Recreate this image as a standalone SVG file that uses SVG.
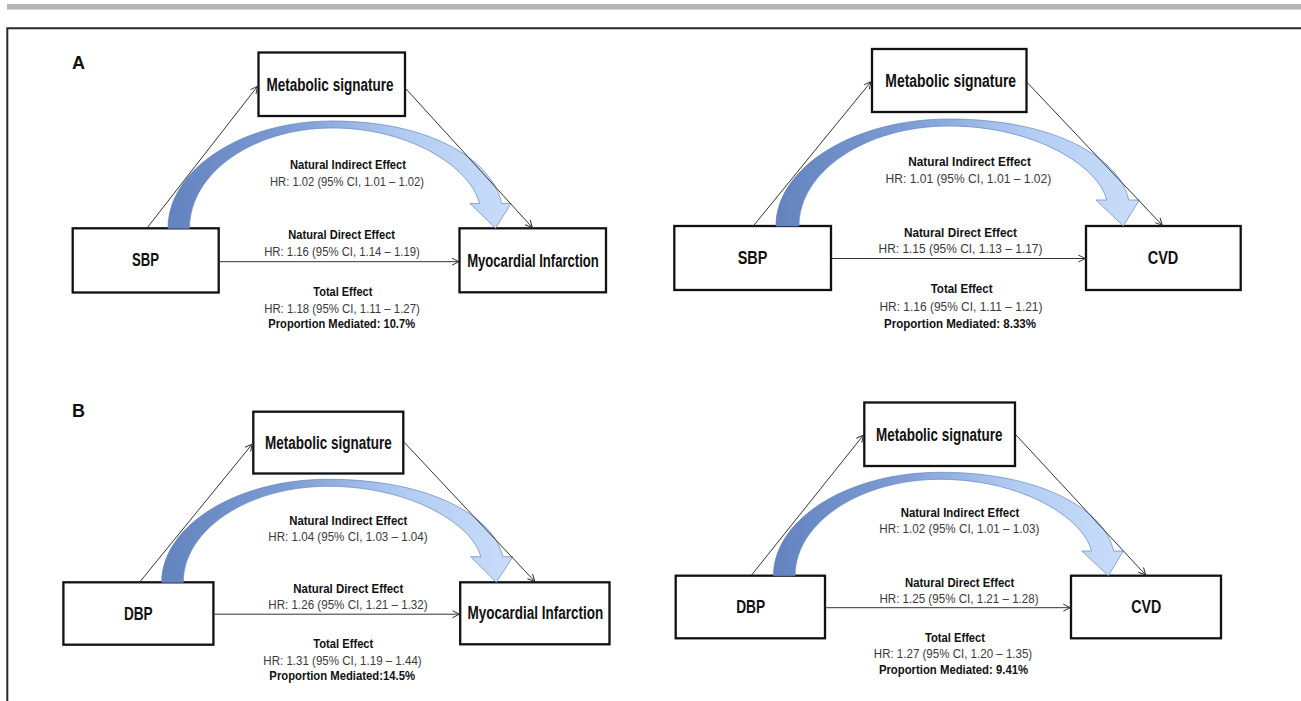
<svg xmlns="http://www.w3.org/2000/svg" width="1301" height="701" viewBox="0 0 1301 701">
<defs>
<style>
.box{fill:#fff;stroke:#111;stroke-width:2.3}
.lbl{font-family:"Liberation Sans",Arial,sans-serif;font-weight:bold;font-size:17.5px;fill:#111;text-anchor:middle}
.pl{font-family:"Liberation Sans",Arial,sans-serif;font-weight:bold;font-size:18px;fill:#111}
.t{font-family:"Liberation Sans",Arial,sans-serif;font-weight:bold;font-size:13.6px;fill:#111;text-anchor:middle}
.hr{font-weight:normal;fill:#3a3a3a}
.ln{stroke:#333;stroke-width:1;fill:none;marker-end:url(#ah)}
.ca{fill:url(#cg);stroke:#6485c0;stroke-width:0.7}
</style>
<linearGradient id="cg" x1="0" y1="0" x2="1" y2="0">
<stop offset="0" stop-color="#6383bf"/>
<stop offset="0.35" stop-color="#7c9bd2"/>
<stop offset="0.7" stop-color="#b3cdf3"/>
<stop offset="1" stop-color="#c9ddf9"/>
</linearGradient>
<marker id="ah" markerWidth="10" markerHeight="10" refX="9" refY="5" orient="auto" markerUnits="userSpaceOnUse">
<path d="M2,1.5 L9,5 L2,8.5" fill="none" stroke="#333" stroke-width="1"/>
</marker>
</defs>
<rect width="1301" height="701" fill="#fff"/>
<g id="frame">
<rect x="7" y="4" width="1294" height="5.5" fill="#b4b4b4"/>
<path d="M7.3,701 V28.3 H1301" fill="none" stroke="#2a2a2a" stroke-width="2"/>
<text class="pl" x="72" y="68.5">A</text>
<text class="pl" x="72" y="417">B</text>
</g>

<g id="A-left-metabolic"><rect class="box" x="258.5" y="52.5" width="146.5" height="63.5"/><text class="lbl" x="330" y="90.5" textLength="127" lengthAdjust="spacingAndGlyphs">Metabolic signature</text></g>
<g id="A-left-sbp"><rect class="box" x="72.7" y="228.3" width="146" height="64.2"/><text class="lbl" x="145.5" y="266.3" textLength="27" lengthAdjust="spacingAndGlyphs">SBP</text></g>
<g id="A-left-mi"><rect class="box" x="459.5" y="228.3" width="146.5" height="64"/><text class="lbl" x="533" y="266.5" textLength="131.7" lengthAdjust="spacingAndGlyphs">Myocardial Infarction</text></g>

<g id="A-right-metabolic"><rect class="box" x="872" y="49" width="154.5" height="63"/><text class="lbl" x="950.7" y="87" textLength="130.7" lengthAdjust="spacingAndGlyphs">Metabolic signature</text></g>
<g id="A-right-sbp"><rect class="box" x="674.3" y="226" width="156.7" height="64"/><text class="lbl" x="752.5" y="264" textLength="29.7" lengthAdjust="spacingAndGlyphs">SBP</text></g>
<g id="A-right-cvd"><rect class="box" x="1086" y="226" width="154.7" height="64"/><text class="lbl" x="1163" y="264" textLength="30.7" lengthAdjust="spacingAndGlyphs">CVD</text></g>

<g id="B-left-metabolic"><rect class="box" x="253.3" y="411.7" width="150" height="61.8"/><text class="lbl" x="328.3" y="448.5" textLength="126.7" lengthAdjust="spacingAndGlyphs">Metabolic signature</text></g>
<g id="B-left-dbp"><rect class="box" x="63.4" y="582.3" width="150" height="62.4"/><text class="lbl" x="138.3" y="619.5" textLength="28.7" lengthAdjust="spacingAndGlyphs">DBP</text></g>
<g id="B-left-mi"><rect class="box" x="460.2" y="582.3" width="149.3" height="62"/><text class="lbl" x="535.4" y="619" textLength="135.6" lengthAdjust="spacingAndGlyphs">Myocardial Infarction</text></g>

<g id="B-right-metabolic"><rect class="box" x="864.3" y="402.5" width="150.7" height="63.5"/><text class="lbl" x="939.2" y="440.5" textLength="126.4" lengthAdjust="spacingAndGlyphs">Metabolic signature</text></g>
<g id="B-right-dbp"><rect class="box" x="675.7" y="575.7" width="149.3" height="62.6"/><text class="lbl" x="750.7" y="613" textLength="29" lengthAdjust="spacingAndGlyphs">DBP</text></g>
<g id="B-right-cvd"><rect class="box" x="1071" y="575.7" width="150" height="62.6"/><text class="lbl" x="1146.2" y="613" textLength="30" lengthAdjust="spacingAndGlyphs">CVD</text></g>

<g id="connectors">
<path class="ca" d="M168,228.3 C168,169.3 241.8,121 332,121 C433.7,121 493.5,162.3 501.5,203.5 L511,203.5 L495.5,228.3 L470,203.5 L479.5,203.5 C471.5,169.5 413.1,128 332,128 C253.6,128 189.5,172.9 189.5,228.3 Z"/>
<path class="ca" d="M776,226 C776,167.2 853.9,119 949,119 C1056.8,119 1120.7,159.5 1128.7,200 L1139.3,200 L1123.3,226 L1096,200 L1106.7,200 C1098.7,166.7 1035.7,126 949,126 C866.5,126 799,171 799,226 Z"/>
<path class="ca" d="M161.7,582.3 C161.7,525.65 236.5,479.3 328,479.3 C432.9,479.3 494.75,518 502.75,556.7 L512.9,556.7 L496.3,582.3 L470.6,556.7 L480.75,556.7 C472.75,525 412,486.3 328,486.3 C248.4,486.3 183.3,529.5 183.3,582.3 Z"/>
<path class="ca" d="M773.5,575.7 C773.5,518.8 848.4,472.3 940,472.3 C1044.1,472.3 1105.5,511.6 1113.5,551 L1123.3,551 L1108.3,575.7 L1081.7,551 L1091.5,551 C1083.5,518.7 1023.3,479.3 940,479.3 C860.3,479.3 795.1,522.7 795.1,575.7 Z"/>
<line class="ln" x1="147.3" y1="227.7" x2="257.5" y2="86.3"/>
<line class="ln" x1="404" y1="86.7" x2="532.3" y2="227.5"/>
<line class="ln" x1="218.7" y1="261.7" x2="459" y2="261.7"/>
<line class="ln" x1="753.3" y1="226" x2="871" y2="81.7"/>
<line class="ln" x1="1027" y1="82.3" x2="1162.3" y2="225.3"/>
<line class="ln" x1="831" y1="258.5" x2="1085.3" y2="258.5"/>
<line class="ln" x1="140" y1="581.7" x2="252.3" y2="444"/>
<line class="ln" x1="404.2" y1="442.3" x2="534.8" y2="581.5"/>
<line class="ln" x1="213.4" y1="614.2" x2="459.5" y2="614.2"/>
<line class="ln" x1="751.6" y1="575" x2="863.5" y2="435"/>
<line class="ln" x1="1016" y1="435" x2="1145.7" y2="575"/>
<line class="ln" x1="825" y1="607.7" x2="1070.3" y2="607.7"/>
</g>

<g id="A-left-labels">
<text class="t" x="348" y="169.3" textLength="116" lengthAdjust="spacingAndGlyphs">Natural Indirect Effect</text>
<text class="t hr" x="347" y="185.5" textLength="154" lengthAdjust="spacingAndGlyphs">HR: 1.02 (95% CI, 1.01 – 1.02)</text>
<text class="t" x="341.7" y="239.3" textLength="106.7" lengthAdjust="spacingAndGlyphs">Natural Direct Effect</text>
<text class="t hr" x="342" y="256" textLength="155.7" lengthAdjust="spacingAndGlyphs">HR: 1.16 (95% CI, 1.14 – 1.19)</text>
<text class="t" x="342.8" y="296" textLength="59" lengthAdjust="spacingAndGlyphs">Total Effect</text>
<text class="t hr" x="342" y="312.7" textLength="155.7" lengthAdjust="spacingAndGlyphs">HR: 1.18 (95% CI, 1.11 – 1.27)</text>
<text class="t" x="341.7" y="328.3" textLength="146.7" lengthAdjust="spacingAndGlyphs">Proportion Mediated:  10.7%</text>
</g>
<g id="A-right-labels">
<text class="t" x="969.5" y="166" textLength="122.7" lengthAdjust="spacingAndGlyphs">Natural Indirect Effect</text>
<text class="t hr" x="968.4" y="182.7" textLength="165.8" lengthAdjust="spacingAndGlyphs">HR: 1.01 (95% CI, 1.01 – 1.02)</text>
<text class="t" x="960.4" y="236.7" textLength="113" lengthAdjust="spacingAndGlyphs">Natural Direct Effect</text>
<text class="t hr" x="960.5" y="252.7" textLength="164" lengthAdjust="spacingAndGlyphs">HR: 1.15 (95% CI, 1.13 – 1.17)</text>
<text class="t" x="961.6" y="293.3" textLength="61.8" lengthAdjust="spacingAndGlyphs">Total Effect</text>
<text class="t hr" x="961" y="310.5" textLength="163" lengthAdjust="spacingAndGlyphs">HR: 1.16 (95% CI, 1.11 – 1.21)</text>
<text class="t" x="960" y="327.5" textLength="152" lengthAdjust="spacingAndGlyphs">Proportion Mediated:  8.33%</text>
</g>
<g id="B-left-labels">
<text class="t" x="348.3" y="525" textLength="118" lengthAdjust="spacingAndGlyphs">Natural Indirect Effect</text>
<text class="t hr" x="348" y="541" textLength="159.3" lengthAdjust="spacingAndGlyphs">HR: 1.04 (95% CI, 1.03 – 1.04)</text>
<text class="t" x="348.3" y="593.3" textLength="110" lengthAdjust="spacingAndGlyphs">Natural Direct Effect</text>
<text class="t hr" x="348" y="609.3" textLength="159.3" lengthAdjust="spacingAndGlyphs">HR: 1.26 (95% CI, 1.21 – 1.32)</text>
<text class="t" x="343.3" y="648.3" textLength="60" lengthAdjust="spacingAndGlyphs">Total Effect</text>
<text class="t hr" x="342.5" y="665" textLength="158.3" lengthAdjust="spacingAndGlyphs">HR: 1.31 (95% CI, 1.19 – 1.44)</text>
<text class="t" x="342.2" y="680" textLength="145.7" lengthAdjust="spacingAndGlyphs">Proportion Mediated:14.5%</text>
</g>
<g id="B-right-labels">
<text class="t" x="960" y="517.3" textLength="118.7" lengthAdjust="spacingAndGlyphs">Natural Indirect Effect</text>
<text class="t hr" x="959.3" y="533.3" textLength="160" lengthAdjust="spacingAndGlyphs">HR: 1.02 (95% CI, 1.01 – 1.03)</text>
<text class="t" x="959.7" y="586.7" textLength="109.3" lengthAdjust="spacingAndGlyphs">Natural Direct Effect</text>
<text class="t hr" x="959" y="602.7" textLength="159.2" lengthAdjust="spacingAndGlyphs">HR: 1.25 (95% CI, 1.21 – 1.28)</text>
<text class="t" x="955" y="641.7" textLength="60" lengthAdjust="spacingAndGlyphs">Total Effect</text>
<text class="t hr" x="953" y="658.3" textLength="158.4" lengthAdjust="spacingAndGlyphs">HR: 1.27 (95% CI, 1.20 – 1.35)</text>
<text class="t" x="953.5" y="674" textLength="149.2" lengthAdjust="spacingAndGlyphs">Proportion Mediated:  9.41%</text>
</g>
</svg>
